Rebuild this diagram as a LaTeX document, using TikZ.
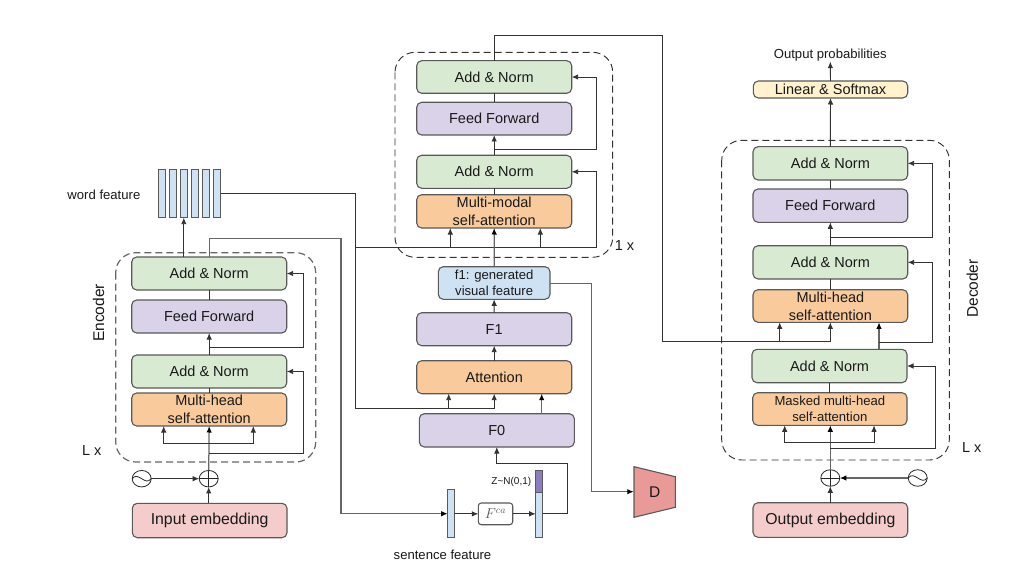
\documentclass[tikz,border=0pt]{standalone}
\usepackage{fontspec}
\setmainfont{Liberation Sans}
\usetikzlibrary{arrows.meta,shapes.geometric}
\definecolor{cgreen}{HTML}{D9EAD3}
\definecolor{cpurple}{HTML}{D9D2E9}
\definecolor{corange}{HTML}{F9CB9C}
\definecolor{cpink}{HTML}{F4CCCC}
\definecolor{cblue}{HTML}{CFE2F3}
\definecolor{cyellow}{HTML}{FFF2CC}
\definecolor{cviolet}{HTML}{8E7CC3}
\definecolor{cred}{HTML}{EA9999}
\definecolor{cedge}{HTML}{595959}
\definecolor{cline}{HTML}{333333}
\definecolor{cgrey}{HTML}{666666}
\tikzset{
  blk/.style={draw=cedge,line width=1.1pt,rounded corners=5pt,inner sep=0pt,outer sep=0pt,align=center,text=black!90},
  big/.style={font=\fontsize{14.5}{18}\selectfont},
  mid/.style={font=\fontsize{13.1}{16}\selectfont},
  emb/.style={font=\fontsize{15.8}{18}\selectfont},
  lab/.style={inner sep=0pt,text=black!90,font=\fontsize{13.1}{16}\selectfont},
  sidelab/.style={inner sep=0pt,text=black!90,font=\fontsize{14.5}{16}\selectfont},
  rotlab/.style={inner sep=0pt,text=black!90,rotate=90,font=\fontsize{15.5}{16}\selectfont},
  greenb/.style={blk,big,fill=cgreen},
  purpleb/.style={blk,big,fill=cpurple},
  orangeb/.style={blk,big,fill=corange},
  pinkb/.style={blk,emb,fill=cpink},
  vec/.style={draw=cedge,line width=1.1pt,fill=cblue,inner sep=0pt,outer sep=0pt},
  conn/.style={draw=cline,line width=0.95pt},
  arr/.style={conn,-{Latex[length=6.5pt,width=5.5pt]}},
  gconn/.style={draw=cgrey,line width=1.25pt},
  garr/.style={gconn,-{Latex[length=6.5pt,width=5.5pt,color=black]}},
  frame/.style={draw=cline,line width=0.95pt,dash pattern=on 7pt off 4pt,rounded corners=20pt},
  osc/.style={ellipse,draw=black!85,line width=0.8pt,fill=white,minimum width=19pt,minimum height=16.5pt,inner sep=0pt,outer sep=0pt},
}
\newcommand{\bx}[7]{%
  \pgfmathsetmacro{\cxx}{(#2+#4)/2}\pgfmathsetmacro{\cyy}{(#3+#5)/2}%
  \pgfmathsetmacro{\ww}{#4-#2}\pgfmathsetmacro{\hh}{#5-#3}%
  \node[#6,minimum width=\ww pt,minimum height=\hh pt] (#1) at (\cxx,\cyy) {#7};%
}
\newcommand{\sinewave}[1]{\draw[line width=0.8pt,black!85] (#1.west) .. controls +(6,-8) and +(-6,8) .. (#1.east);}
\newcommand{\crossmark}[1]{\draw[line width=0.8pt,black!85] (#1.north) -- (#1.south) (#1.west) -- (#1.east);}
\begin{document}
\begin{tikzpicture}[x=1pt,y=-1pt]
\useasboundingbox (0,0) rectangle (1032,572);
\fill[white] (0,0) rectangle (1032,572);

% frames
\draw[frame,draw=cgrey,line width=1.2pt] (115.7,252.7) rectangle (315.7,462);
\draw[frame] (395,52.3) rectangle (612.7,257.3);
\draw[frame] (721.7,140.3) rectangle (949.3,460);

% encoder
\bx{eadd}{131.7}{257}{286.7}{290}{greenb}{Add \& Norm}
\bx{eff}{131.7}{300}{286.7}{333}{purpleb}{Feed Forward}
\bx{eaddb}{131.7}{355}{286.7}{388}{greenb}{Add \& Norm}
\bx{emh}{131.7}{393}{286.7}{426}{orangeb}{Multi-head\\self-attention}
\bx{einp}{132.3}{503.3}{287}{537.7}{pinkb}{Input embedding}
\node[osc] (eplus) at (208.7,478.7) {};
\node[osc] (esine) at (141.7,478.7) {};
\crossmark{eplus}
\sinewave{esine}
\foreach \i/\x in {1/158.3,2/169.3,3/180.3,4/191.3,5/202.6,6/213.6}
  \bx{bar\i}{\x}{169.7}{\x+7}{217.7}{vec}{};
\node[lab] (wflab) at (103.9,195) {word feature};
\node[rotlab] (enclab) at (98.5,313) {Encoder};
\node[sidelab] (elx) at (91.7,450.7) {L x};

% middle
\bx{madd}{416.7}{60.7}{571.7}{93.3}{greenb}{Add \& Norm}
\bx{mff}{416.7}{102.3}{571.7}{135}{purpleb}{Feed Forward}
\bx{maddb}{416.7}{155.3}{571.7}{188.3}{greenb}{Add \& Norm}
\bx{mmm}{416.7}{194.7}{571.7}{228}{orangeb}{Multi-modal\\self-attention}
\bx{fone}{438.3}{266.7}{550}{299.3}{blk,mid,fill=cblue}{f1: generated\\visual feature}
\bx{Fone}{416.7}{312.7}{571.7}{345.7}{purpleb}{F1}
\bx{att}{416.7}{360.7}{571.7}{393.7}{orangeb}{Attention}
\bx{Fzero}{419.3}{413.7}{574.3}{447}{purpleb}{F0}
\node[sidelab] (onex) at (624.5,246) {1 x};
\bx{sbar}{447.7}{489.7}{454.7}{537.7}{vec}{}
\bx{fca}{478.3}{503}{512.7}{524.7}{blk,fill=white,rounded corners=3pt,text=black!65,font=\fontsize{14}{16}\selectfont}{$F^{ca}$}
\bx{zbar}{535.7}{470.3}{542.7}{537.7}{vec}{}
\bx{zpart}{535.7}{470.3}{542.7}{492.3}{vec,fill=cviolet}{}
\node[inner sep=0pt,text=black!90,font=\fontsize{10}{11}\selectfont] (zlab) at (511.3,482.3) {Z\textasciitilde N(0,1)};
\node[lab] (sflab) at (442.5,555) {sentence feature};
\draw[draw=cedge,line width=1.1pt,fill=cred] (634,466.7) -- (675.3,476.7) -- (675.3,507.3) -- (634,517.3) -- cycle;
\node[inner sep=0pt,minimum width=41.3pt,text=black!90,font=\fontsize{15.5}{18}\selectfont] (disc) at (654.6,491.7) {D};

% decoder
\node[lab] (outlab) at (830.3,55.3) {Output probabilities};
\bx{lin}{753.3}{81}{907.7}{98}{blk,big,fill=cyellow}{Linear \& Softmax}
\bx{dadd}{753}{146.7}{907.7}{180}{greenb}{Add \& Norm}
\bx{dff}{753}{189}{907.7}{222.3}{purpleb}{Feed Forward}
\bx{daddb}{753}{245.7}{907.7}{279}{greenb}{Add \& Norm}
\bx{dmh}{753}{289.7}{907.7}{322.3}{orangeb}{Multi-head\\self-attention}
\bx{daddc}{752}{349.3}{907}{382.7}{greenb}{Add \& Norm}
\bx{dmask}{752.7}{392.7}{907}{425.3}{blk,mid,fill=corange}{Masked multi-head\\self-attention}
\bx{dout}{753}{502.7}{907.7}{537.3}{pinkb}{Output embedding}
\node[osc] (dplus) at (830.3,478) {};
\node[osc] (dsine) at (917.7,478) {};
\crossmark{dplus}
\sinewave{dsine}
\node[rotlab] (declab) at (972.3,288.5) {Decoder};
\node[sidelab] (dlx) at (971.7,447.3) {L x};

% waypoints
\coordinate (eY) at (341,238.3);
\coordinate (eFbA) at (303,347.3);
\coordinate (eFbB) at (303,453.3);
\coordinate (eBrL) at (163.7,443.3);
\coordinate (eBrR) at (253.3,443.3);
\coordinate (wfC) at (355.7,193.3);
\coordinate (wfL) at (355.7,408);
\coordinate (wfB) at (448.7,408);
\coordinate (mmL) at (355.7,247.3);
\coordinate (mmR) at (596.3,247.3);
\coordinate (mmA) at (450.3,247.3);
\coordinate (mmB) at (540.3,247.3);
\coordinate (mFb) at (596.3,149.3);
\coordinate (topA) at (662.3,35.3);
\coordinate (topB) at (662.3,341.7);
\coordinate (dBr) at (779.7,341.7);
\coordinate (f1R) at (591.7,283.3);
\coordinate (FzA) at (541.7,413.7);
\coordinate (zR) at (567.7,513.7);
\coordinate (zT) at (567.7,463.3);
\coordinate (dFbA) at (932.3,237.3);
\coordinate (dFbB) at (932.3,342.3);
\coordinate (dBrC) at (879,349.3);
\coordinate (dFbC) at (935,448.3);
\coordinate (dMl) at (784.7,442.3);
\coordinate (dMr) at (874,442.3);

% encoder connectors
\draw[conn] (eadd.south) -- (eff.north);
\draw[arr] (eaddb.north) -- (eff.south);
\draw[conn] (eaddb.south) -- (emh.north);
\draw[garr] (eplus.north) -- (emh.south);
\draw[arr] (einp.north -| eplus.south) -- (eplus.south);
\draw[arr] (esine.east) -- (eplus.west);
\draw[arr] (eadd.north -| bar3.south) -- (bar3.south);
\draw[arr] (eff.south |- eFbA) -- (eFbA) -- (eFbA |- eadd.east) -- (eadd.east);
\draw[arr] (emh.south |- eFbB) -- (eFbB) -- (eFbB |- eaddb.east) -- (eaddb.east);
\draw[arr] (emh.south |- eBrL) -- (eBrL) -- (eBrL |- emh.south);
\draw[arr] (emh.south |- eBrR) -- (eBrR) -- (eBrR |- emh.south);
\draw[garr] (eadd.north) -- (eadd.north |- eY) -- (eY) -- (eY |- sbar.west) -- (sbar.west);

% word feature connectors
\draw[arr] (bar6.east |- wfC) -- (wfC) -- (wfL) -- (att.south |- wfL) -- (att.south);
\draw[arr] (wfB) -- (wfB |- att.south);
\draw[arr] (mmL) -- (mmR) -- (mmR |- maddb.east) -- (maddb.east);
\draw[arr] (mmA) -- (mmA |- mmm.south);
\draw[arr] (mmB) -- (mmB |- mmm.south);

% middle connectors
\draw[conn] (madd.south) -- (mff.north);
\draw[arr] (maddb.north) -- (mff.south);
\draw[conn] (maddb.south) -- (mmm.north);
\draw[garr] (fone.north) -- (mmm.south);
\draw[arr] (Fone.north) -- (fone.south);
\draw[arr] (att.north) -- (Fone.south);
\draw[garr] (FzA) -- (FzA |- att.south);
\draw[arr] (maddb.north |- mFb) -- (mFb) -- (mFb |- madd.east) -- (madd.east);
\draw[garr] (fone.east |- f1R) -- (f1R) -- (f1R |- disc.west) -- (disc.west);
\draw[arr] (sbar.east |- fca.west) -- (fca.west);
\draw[arr] (fca.east) -- (zbar.west |- fca.east);
\draw[conn] (zbar.east |- zR) -- (zR) -- (zT);
\draw[arr] (zT) -- (Fzero.south |- zT) -- (Fzero.south);
\draw[arr] (madd.north) -- (madd.north |- topA) -- (topA) -- (topB) -- (dmh.south |- topB) -- (dmh.south);
\draw[arr] (dBr) -- (dBr |- dmh.south);

% decoder connectors
\draw[arr] (dadd.north) -- (lin.south);
\draw[arr] (lin.north) -- (outlab.south);
\draw[conn] (dadd.south) -- (dff.north);
\draw[arr] (daddb.north) -- (dff.south);
\draw[conn] (daddb.south) -- (dmh.north);
\draw[arr] (dff.south |- dFbA) -- (dFbA) -- (dFbA |- dadd.east) -- (dadd.east);
\draw[garr] (dBrC) -- (dBrC |- dmh.south);
\draw[arr] (dBrC |- dFbB) -- (dFbB) -- (dFbB |- daddb.east) -- (daddb.east);
\draw[conn] (daddc.south -| dmask.north) -- (dmask.north);
\draw[garr] (dplus.north) -- (dmask.south -| dplus.north);
\draw[arr] (dout.north -| dplus.south) -- (dplus.south);
\draw[garr] (dsine.west) -- (dplus.east);
\draw[arr] (dplus.north |- dFbC) -- (dFbC) -- (dFbC |- daddc.east) -- (daddc.east);
\draw[arr] (dplus.north |- dMl) -- (dMl) -- (dMl |- dmask.south);
\draw[arr] (dplus.north |- dMr) -- (dMr) -- (dMr |- dmask.south);
\end{tikzpicture}
\end{document}
